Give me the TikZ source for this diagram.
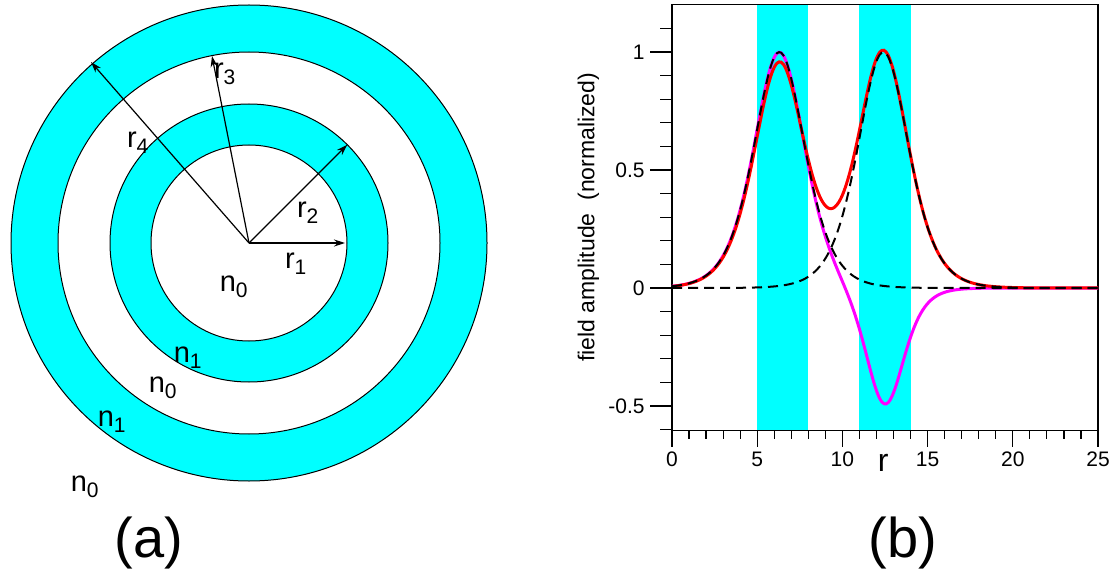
\documentclass[tikz,border=0pt]{standalone}
\usepackage{fontspec}
\setmainfont{Liberation Sans}
\usetikzlibrary{arrows.meta}
\definecolor{aq}{rgb}{0,1,1}
\definecolor{mg}{rgb}{1,0,1}
\definecolor{rd}{rgb}{1,0,0}
\begin{document}
\begin{tikzpicture}[x=1pt,y=-1pt,
  lbl/.style={font=\fontsize{29}{30}\selectfont},
  big/.style={font=\fontsize{56}{60}\selectfont},
  tick/.style={font=\fontsize{21}{24}\selectfont},
  arr/.style={-{Stealth[length=11pt,width=7pt]},line width=1.2pt},
  declare function={s(\t)=1/cosh(\t);
    fa(\r)=s((\r-6.3)/2)^2; fb(\r)=s((\r-12.4)/2)^2;
    fm(\r)=fa(\r)-0.5*s((\r-12.5)/1.5)^2;}]
\useasboundingbox (0,0) rectangle (1114,588);
\coordinate (c) at (249,243);
% rings
\fill[aq] (c) circle (238);
\fill[white] (c) circle (191);
\fill[aq] (c) circle (139);
\fill[white] (c) circle (98);
\foreach \R in {238,191,139,98} \draw[line width=1pt] (c) circle (\R);
\path (c) ++(96,0) coordinate (e1);
\path (c) ++(98.3,-98.3) coordinate (e2);
\path (c) ++(-37,-187) coordinate (e3);
\path (c) ++(-158,-181) coordinate (e4);
\foreach \e in {e1,e2,e3,e4} \draw[arr] (c) -- (\e);
\node[lbl] (l1) at (296,264) {r$_{\mbox{\fontsize{21}{21}\selectfont 1}}$};
\node[lbl] (l2) at (308,213) {r$_{\mbox{\fontsize{21}{21}\selectfont 2}}$};
\node[lbl] (l3) at (225,74) {r$_{\mbox{\fontsize{21}{21}\selectfont 3}}$};
\node[lbl] (l4) at (138,143) {r$_{\mbox{\fontsize{21}{21}\selectfont 4}}$};
\node[lbl] (m1) at (234,287) {n$_{\mbox{\fontsize{21}{21}\selectfont 0}}$};
\node[lbl] (m2) at (188,358) {n$_{\mbox{\fontsize{21}{21}\selectfont 1}}$};
\node[lbl] (m3) at (163,388) {n$_{\mbox{\fontsize{21}{21}\selectfont 0}}$};
\node[lbl] (m4) at (112,422) {n$_{\mbox{\fontsize{21}{21}\selectfont 1}}$};
\node[lbl] (m5) at (85,487) {n$_{\mbox{\fontsize{21}{21}\selectfont 0}}$};
\node[big] (a) at (149,543) {(a)};
\node[big] (b) at (903,543) {(b)};
% plot
\begin{scope}[shift={(672,288)},x=17.04pt,y=236pt]
\fill[aq] (5,-0.605) rectangle (8,1.2);
\fill[aq] (11,-0.605) rectangle (14,1.2);
\draw[line width=1.4pt] (0,-0.605) rectangle (25,1.2);
\foreach \i in {0,...,25} \draw[line width=1.2pt] (\i,-0.605) -- ++(0,-0.035);
\foreach \i in {0,5,...,25} {\draw[line width=1.2pt] (\i,-0.605) -- ++(0,-0.07);
  \node[tick,anchor=north] at (\i,-0.68) {\i};}
\foreach \v in {-0.5,0,0.5,1} \draw[line width=1.2pt] (0,\v) -- ++(-1.3,0);
\foreach \v in {-0.6,-0.4,-0.3,-0.2,-0.1,0.1,0.2,0.3,0.4,0.6,0.7,0.8,0.9,1.1} \draw[line width=1.2pt] (0,\v) -- ++(-0.7,0);
\foreach \v/\t in {-0.5/-0.5,0/0,0.5/0.5,1/1} \node[tick,anchor=east] at (-1.4,\v) {\t};
\node[font=\fontsize{32}{34}\selectfont] (xl) at (12.4,-0.74) {r};
\node[font=\fontsize{23}{26}\selectfont,rotate=90] (yl) at (-4.9,0.3) {field amplitude\ \ (normalized)};
\draw[mg,line width=3pt,smooth,samples=200,domain=0:25] plot (\x,{fm(\x)});
\draw[rd,line width=3pt,smooth,samples=200,domain=0:25] plot (\x,{0.95*fa(\x)+fb(\x)-0.02*fa(\x)*fb(\x)});
\draw[black,dash pattern=on 10pt off 6pt,line width=2pt,smooth,samples=200,domain=0:25] plot (\x,{fa(\x)});
\draw[black,dash pattern=on 10pt off 6pt,line width=2pt,smooth,samples=200,domain=0:25] plot (\x,{fb(\x)});
\end{scope}
\end{tikzpicture}
\end{document}
